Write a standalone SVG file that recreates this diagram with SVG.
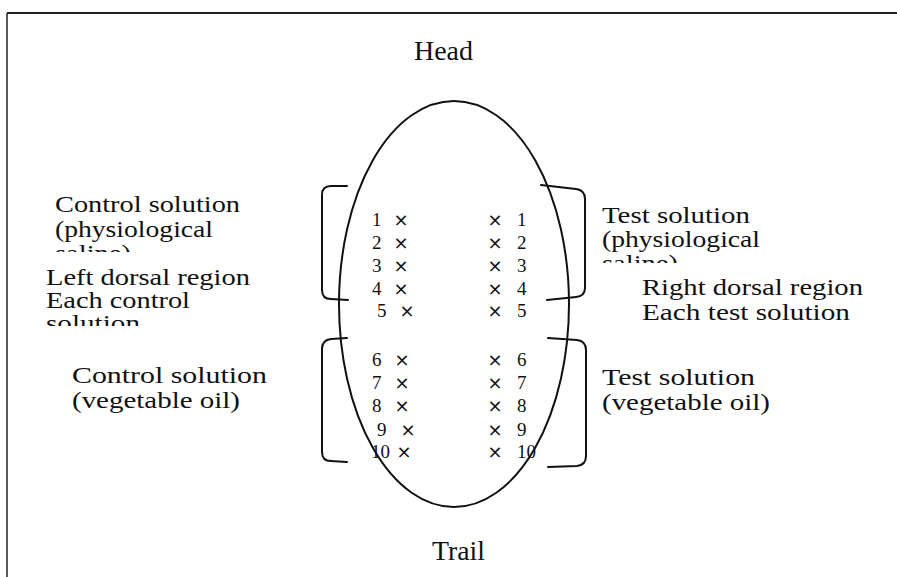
<svg xmlns="http://www.w3.org/2000/svg" width="897" height="577" viewBox="0 0 897 577">
<style>
.t{font-family:"Liberation Serif","Times New Roman",serif;font-size:23px;fill:#111}
.ht{font-family:"Liberation Serif","Times New Roman",serif;font-size:27px;fill:#111}
.n{font-family:"Liberation Serif","Times New Roman",serif;font-size:19px;fill:#111}
.x{font-family:"DejaVu Sans",sans-serif;font-size:18px;fill:#111;text-anchor:middle}
.ln{fill:none;stroke:#111;stroke-width:2;stroke-linecap:round;stroke-linejoin:round}
</style>
<defs>
<clipPath id="cL1"><rect x="0" y="190" width="300" height="62"/></clipPath>
<clipPath id="cL2"><rect x="0" y="265" width="300" height="61"/></clipPath>
<clipPath id="cR1"><rect x="590" y="195" width="300" height="68"/></clipPath>
</defs>
<rect width="897" height="577" fill="#fff"/>
<g id="frame">
<line x1="7" y1="13" x2="897" y2="13" stroke="#222" stroke-width="2"/>
<line x1="7" y1="13" x2="7" y2="577" stroke="#222" stroke-width="1.5"/>
</g>
<g id="head"><text class="ht" x="414" y="60" textLength="59" lengthAdjust="spacingAndGlyphs">Head</text></g>
<g id="trail"><text class="ht" x="432" y="560" textLength="53" lengthAdjust="spacingAndGlyphs">Trail</text></g>
<g id="body"><ellipse class="ln" cx="454" cy="304" rx="115" ry="203"/></g>
<g id="connectors">
<path class="ln" d="M347,186 L331,186 Q322,186 322,195 L322,290 Q322,299 331,299 L348,300"/>
<path class="ln" d="M541,185 L576,189 Q585,190 585,199 L585,288 Q585,296 576,297 L547,300"/>
<path class="ln" d="M347,338 L331,339 Q322,340 322,349 L322,452 Q322,461 331,461 L347,462"/>
<path class="ln" d="M548,338 L577,340 Q586,341 586,350 L586,456 Q586,465 577,466 L548,467"/>
</g>
<g id="label-control-saline" clip-path="url(#cL1)">
<text class="t" x="55" y="212" textLength="185" lengthAdjust="spacingAndGlyphs">Control solution</text>
<text class="t" x="55" y="237" textLength="158" lengthAdjust="spacingAndGlyphs">(physiological</text>
<text class="t" x="55" y="261" textLength="76" lengthAdjust="spacingAndGlyphs">saline)</text>
</g>
<g id="label-left-dorsal" clip-path="url(#cL2)">
<text class="t" x="46" y="285" textLength="204" lengthAdjust="spacingAndGlyphs">Left dorsal region</text>
<text class="t" x="46" y="308" textLength="144" lengthAdjust="spacingAndGlyphs">Each control</text>
<text class="t" x="46" y="331" textLength="94" lengthAdjust="spacingAndGlyphs">solution</text>
</g>
<g id="label-test-saline" clip-path="url(#cR1)">
<text class="t" x="602" y="223" textLength="148" lengthAdjust="spacingAndGlyphs">Test solution</text>
<text class="t" x="602" y="247" textLength="158" lengthAdjust="spacingAndGlyphs">(physiological</text>
<text class="t" x="602" y="271" textLength="76" lengthAdjust="spacingAndGlyphs">saline)</text>
</g>
<g id="label-right-dorsal">
<text class="t" x="642" y="295" textLength="221" lengthAdjust="spacingAndGlyphs">Right dorsal region</text>
<text class="t" x="642" y="320" textLength="208" lengthAdjust="spacingAndGlyphs">Each test solution</text>
</g>
<g id="label-control-oil">
<text class="t" x="72" y="383" textLength="195" lengthAdjust="spacingAndGlyphs">Control solution</text>
<text class="t" x="72" y="408" textLength="168" lengthAdjust="spacingAndGlyphs">(vegetable oil)</text>
</g>
<g id="label-test-oil">
<text class="t" x="602" y="385" textLength="153" lengthAdjust="spacingAndGlyphs">Test solution</text>
<text class="t" x="602" y="410" textLength="168" lengthAdjust="spacingAndGlyphs">(vegetable oil)</text>
</g>
<g id="left-sites">
<text class="n" x="372" y="226">1</text><text class="x" x="401" y="226">×</text>
<text class="n" x="372" y="249">2</text><text class="x" x="401" y="249">×</text>
<text class="n" x="372" y="272">3</text><text class="x" x="401" y="272">×</text>
<text class="n" x="372" y="295">4</text><text class="x" x="401" y="295">×</text>
<text class="n" x="377" y="317">5</text><text class="x" x="407" y="317">×</text>
<text class="n" x="372" y="366">6</text><text class="x" x="402" y="366">×</text>
<text class="n" x="372" y="389">7</text><text class="x" x="402" y="389">×</text>
<text class="n" x="372" y="412">8</text><text class="x" x="402" y="412">×</text>
<text class="n" x="377" y="436">9</text><text class="x" x="408" y="436">×</text>
<text class="n" x="371" y="458">10</text><text class="x" x="404" y="458">×</text>
</g>
<g id="right-sites">
<text class="x" x="495" y="226">×</text><text class="n" x="517" y="226">1</text>
<text class="x" x="495" y="249">×</text><text class="n" x="517" y="249">2</text>
<text class="x" x="495" y="272">×</text><text class="n" x="517" y="272">3</text>
<text class="x" x="495" y="295">×</text><text class="n" x="517" y="295">4</text>
<text class="x" x="495" y="317">×</text><text class="n" x="517" y="317">5</text>
<text class="x" x="495" y="366">×</text><text class="n" x="517" y="366">6</text>
<text class="x" x="495" y="389">×</text><text class="n" x="517" y="389">7</text>
<text class="x" x="495" y="412">×</text><text class="n" x="517" y="412">8</text>
<text class="x" x="495" y="436">×</text><text class="n" x="517" y="436">9</text>
<text class="x" x="495" y="458">×</text><text class="n" x="517" y="458">10</text>
</g>
</svg>
